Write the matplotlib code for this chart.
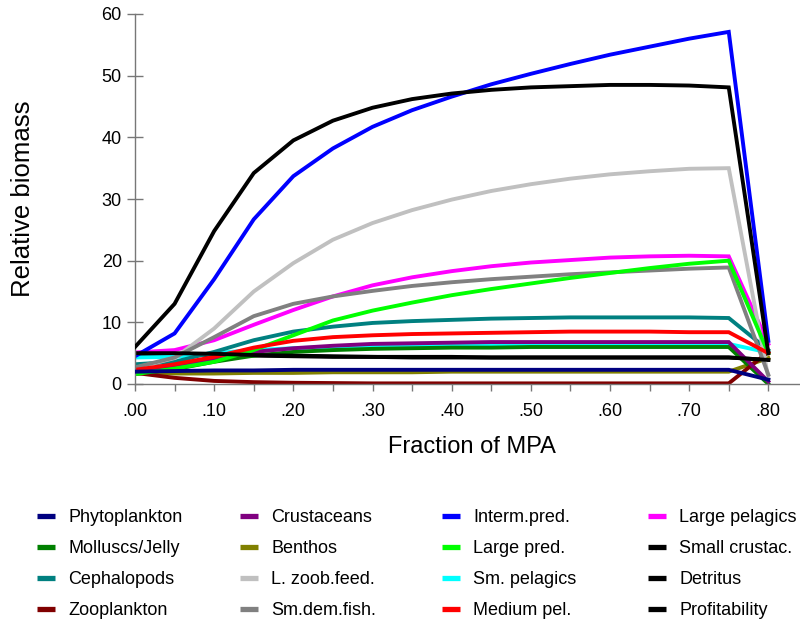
import matplotlib
matplotlib.use("Agg")
import matplotlib.pyplot as plt
from matplotlib.lines import Line2D

plt.rcParams['font.family'] = ['Liberation Sans', 'DejaVu Sans']

x = [0.00, 0.05, 0.10, 0.15, 0.20, 0.25, 0.30, 0.35, 0.40, 0.45, 0.50,
     0.55, 0.60, 0.65, 0.70, 0.75, 0.80]

phytoplankton = [2.0, 2.1, 2.2, 2.2, 2.3, 2.3, 2.3, 2.3, 2.3, 2.3, 2.3, 2.3, 2.3, 2.3, 2.3, 2.3, 0.7]
molluscs = [1.6, 2.4, 3.6, 4.6, 5.2, 5.5, 5.7, 5.8, 5.9, 5.9, 6.0, 6.0, 6.0, 6.0, 6.0, 6.0, 0.0]
cephalopods = [3.2, 3.6, 5.2, 7.1, 8.5, 9.3, 9.9, 10.2, 10.4, 10.6, 10.7, 10.8, 10.8, 10.8, 10.8, 10.7, 5.5]
zooplankton = [1.8, 1.0, 0.5, 0.3, 0.2, 0.15, 0.1, 0.1, 0.1, 0.1, 0.1, 0.1, 0.1, 0.1, 0.1, 0.1, 5.2]
crustaceans = [2.2, 2.9, 4.0, 5.2, 5.8, 6.2, 6.5, 6.6, 6.7, 6.8, 6.8, 6.8, 6.8, 6.8, 6.8, 6.8, 0.4]
benthos = [1.8, 1.7, 1.7, 1.8, 1.8, 1.9, 1.9, 1.9, 2.0, 2.0, 2.0, 2.0, 2.0, 2.0, 2.0, 2.0, 4.2]
lzoobfeed = [2.6, 4.2, 9.0, 15.0, 19.6, 23.4, 26.1, 28.2, 29.9, 31.3, 32.4, 33.3, 34.0, 34.5, 34.9, 35.0, 1.0]
smdemfish = [2.7, 4.3, 7.6, 11.0, 13.0, 14.2, 15.1, 15.9, 16.5, 17.0, 17.4, 17.8, 18.1, 18.4, 18.7, 18.9, 1.5]
intermpred = [4.5, 8.2, 17.0, 26.7, 33.7, 38.2, 41.7, 44.4, 46.6, 48.6, 50.3, 51.9, 53.4, 54.7, 56.0, 57.1, 7.0]
largepred = [1.6, 2.5, 3.6, 5.5, 7.9, 10.3, 11.9, 13.2, 14.4, 15.4, 16.3, 17.2, 18.0, 18.8, 19.5, 20.0, 5.0]
smpelagics = [4.3, 4.4, 5.0, 5.5, 5.8, 6.0, 6.1, 6.1, 6.2, 6.2, 6.2, 6.2, 6.2, 6.2, 6.3, 6.5, 5.1]
mediumpel = [2.3, 3.2, 4.4, 5.9, 7.0, 7.6, 7.9, 8.1, 8.2, 8.3, 8.4, 8.5, 8.5, 8.5, 8.4, 8.4, 5.0]
largepelagics = [5.1, 5.5, 7.1, 9.6, 12.0, 14.2, 16.0, 17.3, 18.3, 19.1, 19.7, 20.1, 20.5, 20.7, 20.8, 20.7, 6.5]
smallcrustac = [5.0, 5.0, 4.9, 4.7, 4.6, 4.5, 4.4, 4.4, 4.4, 4.3, 4.3, 4.3, 4.3, 4.3, 4.3, 4.3, 3.9]
detritus = [4.8, 4.8, 4.7, 4.6, 4.5, 4.4, 4.4, 4.3, 4.3, 4.3, 4.3, 4.3, 4.3, 4.3, 4.3, 4.3, 3.9]
profitability = [6.0, 13.0, 24.8, 34.2, 39.5, 42.7, 44.8, 46.2, 47.1, 47.7, 48.1, 48.3, 48.5, 48.5, 48.4, 48.1, 5.0]

names = ["Phytoplankton", "Molluscs/Jelly", "Cephalopods", "Zooplankton",
         "Crustaceans", "Benthos", "L. zoob.feed.", "Sm.dem.fish.",
         "Interm.pred.", "Large pred.", "Sm. pelagics", "Medium pel.",
         "Large pelagics", "Small crustac.", "Detritus", "Profitability"]
series = [phytoplankton, molluscs, cephalopods, zooplankton,
          crustaceans, benthos, lzoobfeed, smdemfish,
          intermpred, largepred, smpelagics, mediumpel,
          largepelagics, smallcrustac, detritus, profitability]
colors = ["#000080", "#008000", "#008080", "#800000",
          "#800080", "#808000", "#C0C0C0", "#808080",
          "#0000FF", "#00FF00", "#00FFFF", "#FF0000",
          "#FF00FF", "#000000", "#000000", "#000000"]
zorders = [2.6, 2.5, 2.5, 2.5,
           2.5, 2.2, 2.5, 2.5,
           2.5, 2.5, 2.1, 2.5,
           2.4, 2.5, 2.0, 2.7]

xtick_vals = [0.00, 0.05, 0.10, 0.15, 0.20, 0.25, 0.30, 0.35, 0.40, 0.45,
              0.50, 0.55, 0.60, 0.65, 0.70, 0.75, 0.80]
xtick_labels = [".00", "", ".10", "", ".20", "", ".30", "", ".40", "",
                ".50", "", ".60", "", ".70", "", ".80"]
ytick_vals = [0, 10, 20, 30, 40, 50, 60]

fig = plt.figure(figsize=(8, 6.2), dpi=100)
ax = fig.add_axes([135/800, (620-384)/620, (800-135)/800, (384-14)/620])

for name, vals, c, z in zip(names, series, colors, zorders):
    ax.plot(x, vals, color=c, lw=2.8, zorder=z, solid_joinstyle='miter', label=name)

ax.set_xlim(0, 0.84)
ax.set_ylim(0, 60)
ax.set_xticks(xtick_vals)
ax.set_xticklabels(xtick_labels)
ax.set_yticks(ytick_vals)
ax.set_yticklabels([str(v) for v in ytick_vals])

for s in ['top', 'right']:
    ax.spines[s].set_visible(False)
for s in ['left', 'bottom']:
    ax.spines[s].set_color('#777777')
    ax.spines[s].set_linewidth(1.0)
ax.tick_params(axis='y', direction='inout', length=11, width=1.0, color='#777777',
               labelsize=13, pad=4)
ax.tick_params(axis='x', direction='out', length=5, width=1.0, color='#777777',
               labelsize=13, pad=9)

ax.set_xlabel("Fraction of MPA", fontsize=17)
ax.set_ylabel("Relative biomass", fontsize=18.5)
ax.xaxis.set_label_coords(0.507, -0.14)
ax.yaxis.set_label_coords(-0.15, 0.5)

col_x = [37/800, 240/800, 442/800, 648/800]
for ci in range(4):
    hs = []
    for k in range(4):
        i = ci * 4 + k
        hs.append(Line2D([0], [0], color=colors[i], lw=3.8, solid_capstyle='butt'))
    fig.legend(hs, names[ci*4:ci*4+4], loc='center left',
               bbox_to_anchor=(col_x[ci], (620-564)/620),
               frameon=False, fontsize=13.0, handlelength=1.0, handletextpad=0.72,
               labelspacing=0.78, borderpad=0, borderaxespad=0)

fig.savefig("out.png", dpi=100)
